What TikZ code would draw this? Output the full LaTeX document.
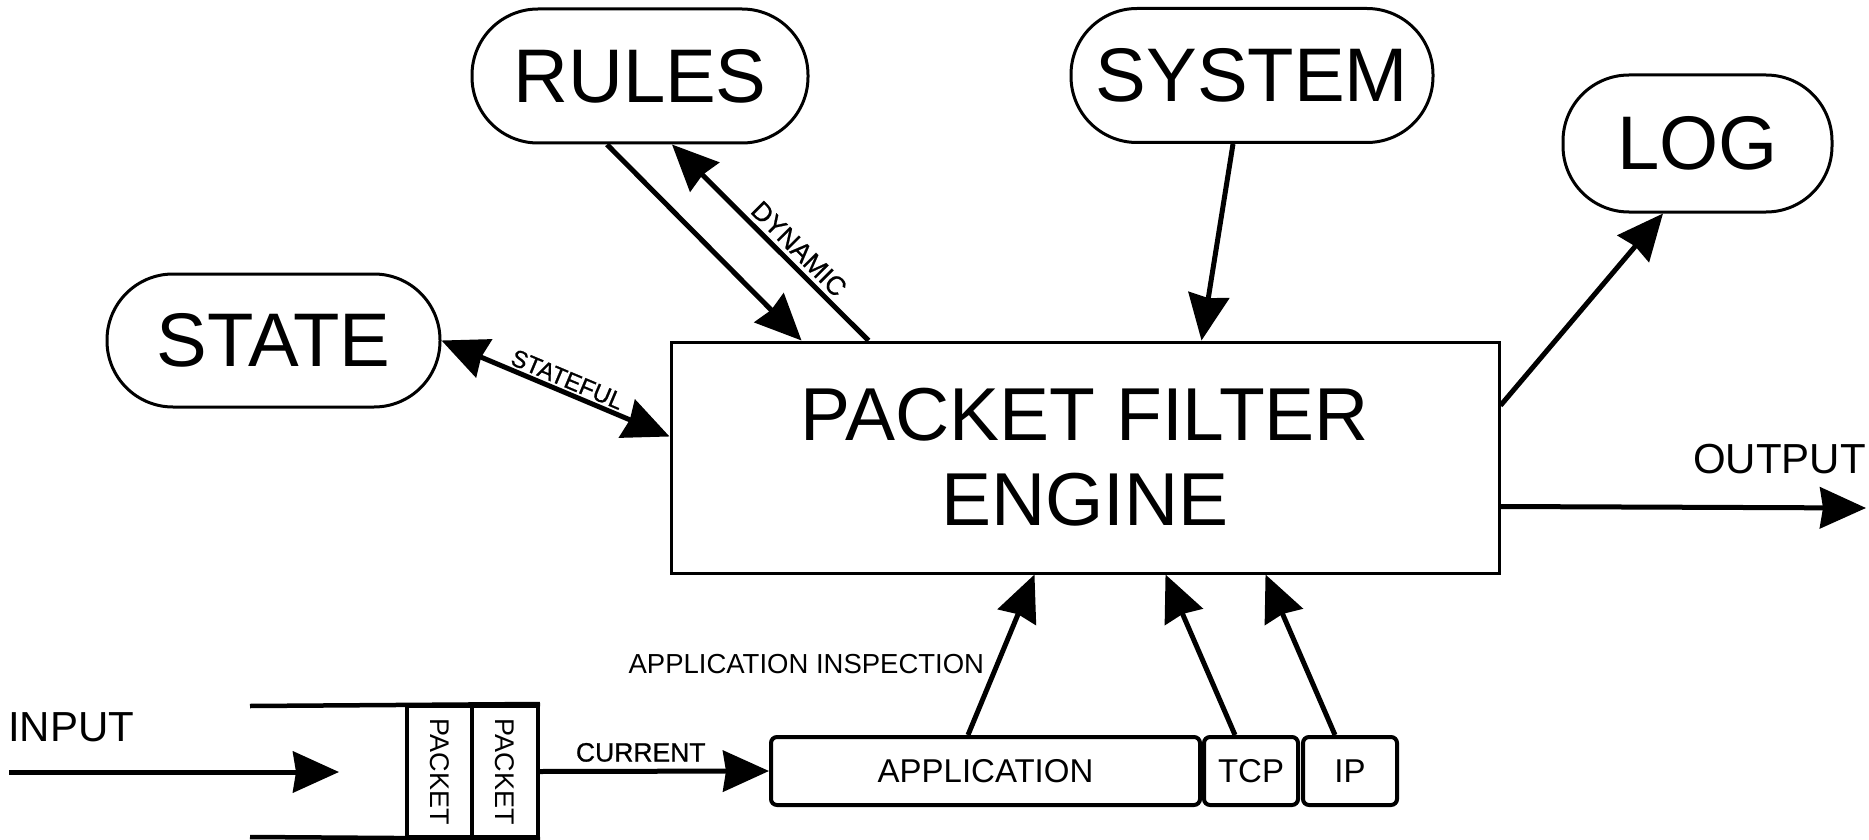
\documentclass[tikz,border=0pt]{standalone}
\usepackage{fontspec}
\usepackage{graphicx}
\setmainfont{Liberation Sans}
\newfontfamily\heavylabel{Liberation Sans}[FakeBold=0.8]
\usetikzlibrary{arrows.meta}

\begin{document}
\begin{tikzpicture}[x=1pt,y=-1pt,
  head/.tip={Stealth[length=46pt,width=41pt,inset=3pt]},
  arr/.style={line width=5pt,-head},
  biarr/.style={line width=5pt,head-head},
  enginebox/.style={draw,line width=3pt,inner sep=0pt,align=center,
    font=\fontsize{75}{85}\selectfont},
  pill/.style={draw,line width=3pt,rectangle,rounded corners=66pt,inner sep=0pt,
    minimum height=134pt,font=\fontsize{76}{80}\selectfont},
  layer/.style={draw,line width=4pt,rounded corners=6pt,inner sep=0pt,
    minimum height=68pt,font=\fontsize{33}{36}\selectfont},
  packetbox/.style={draw,line width=4pt,inner sep=0pt,
    minimum width=65pt,minimum height=131pt,font=\fontsize{27}{30}\selectfont},
  qline/.style={line width=4.5pt},
  lbl/.style={font=\heavylabel\fontsize{24}{27}\selectfont,inner sep=1pt},
  biglbl/.style={font=\fontsize{42}{45}\selectfont,inner sep=0pt}
]
\path[fill=white] (0,0) rectangle (1869,840);
\useasboundingbox (0,0) rectangle (1869,840);

% central engine
\node[enginebox,minimum width=828pt,minimum height=231pt] (pfe) at (1085,457.5)
  {PACKET FILTER\\ENGINE};

% surrounding stores
\node[pill,minimum width=333pt,minimum height=133pt] (state) at (273.5,340.5) {STATE};
\node[pill,minimum width=336pt] (rules) at (640,76) {RULES};
\node[pill,minimum width=362pt] (system) at (1252,75.5) {SYSTEM};
\node[pill,minimum width=269pt,minimum height=137pt] (log) at (1697.5,143.5) {LOG};

% packet layers
\node[layer,minimum width=429pt] (app) at (985.5,771) {APPLICATION};
\node[layer,minimum width=94pt] (tcp) at (1251,771) {TCP};
\node[layer,minimum width=94pt] (ip) at (1350,771) {IP};

% input queue
\node[packetbox] (pkt1) at (439.5,771.5) {\rotatebox{-90}{PACKET}};
\node[packetbox,minimum width=66pt] (pkt2) at (505,771.5) {\rotatebox{-90}{PACKET}};
\coordinate (qtop) at (250,706);
\coordinate (qbot) at (250,837);
\draw[qline] (qtop) -- (pkt2.north east);
\draw[qline] (qbot) -- (pkt2.south east);

% input / output
\coordinate (inStart) at (9,772);
\coordinate (inEnd) at (339,772);
\draw[arr] (inStart) -- (inEnd);
\node[biglbl,anchor=base west] (inlbl) at (8,741) {INPUT};

\coordinate (outEnd) at (1866,508);
\draw[arr] ([yshift=-166pt]pfe.north east) -- (outEnd);
\node[biglbl,anchor=base east] (outlbl) at (1866,473) {OUTPUT};

\draw[arr] (pkt2.east) -- node[lbl,font=\heavylabel\fontsize{26.5}{29}\selectfont,
  pos=0.44,above=6pt] {CURRENT} (app.west);

% engine connections
\draw[biarr] (state.east) -- node[lbl,sloped,above=1pt,pos=0.53] {STATEFUL}
  ([yshift=-96pt]pfe.north west);
\draw[arr] ([xshift=-33pt]rules.south) -- ([xshift=132pt]pfe.north west);
\draw[arr] ([xshift=199pt]pfe.north west) --
  node[lbl,font=\heavylabel\fontsize{26.5}{29}\selectfont,sloped,above=3pt,pos=0.41] {DYNAMIC}
  ([xshift=32pt]rules.south);
\draw[arr] ([xshift=-19pt]system.south) -- ([xshift=532pt]pfe.north west);
\draw[arr] ([yshift=-65pt]pfe.north east) -- ([xshift=-34.5pt]log.south);

\draw[arr] ([xshift=199pt]app.north west) --
  node[lbl,font=\fontsize{27.5}{30}\selectfont,pos=0.445,left=10pt] {APPLICATION INSPECTION}
  ([xshift=365pt]pfe.south west);
\draw[arr] ([xshift=-16pt]tcp.north) -- ([xshift=496pt]pfe.south west);
\draw[arr] ([xshift=-15pt]ip.north) -- ([xshift=596pt]pfe.south west);
\end{tikzpicture}
\end{document}
